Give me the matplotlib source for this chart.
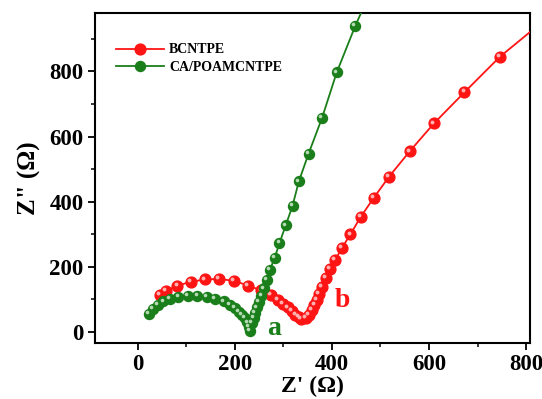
"""
Nyquist plot of the two electrodes (BCNTPE and CA/POAMCNTPE).

"""
import matplotlib.pyplot as plt
from matplotlib.transforms import offset_copy
from matplotlib.ticker import MultipleLocator

# BCNTPE (curve b)
red_x = [46, 59, 82, 109, 139, 167, 198, 227, 255, 275, 289, 300, 309, 317,
         325, 332, 337, 346, 353, 359, 364, 369, 373, 380, 388, 396, 407,
         421, 438, 459, 486, 518, 560, 610, 673, 746, 830]
red_y = [112, 125, 142, 153, 161, 162, 157, 142, 127, 112, 99, 86, 75, 64,
         53, 46, 40, 43, 53, 66, 82, 99, 117, 139, 165, 192, 221,
         258, 299, 352, 411, 477, 554, 640, 736, 845, 948]

# CA/POAMCNTPE (curve a)
green_x = [24, 31, 42, 53, 67, 84, 103, 123, 142, 160, 177, 190, 201, 209,
           215, 221, 226, 229, 232, 235, 239, 242, 246, 250, 255, 260, 266,
           272, 282, 292, 305, 319, 332, 352, 380, 410, 448, 475]
green_y = [55, 69, 83, 93, 101, 107, 110, 110, 107, 101, 93, 83, 73, 62,
           53, 43, 29, 16, 3, 27, 43, 59, 75, 91, 110, 133, 160,
           189, 226, 272, 327, 387, 462, 547, 658, 797, 939, 1030]

RED = "#ff1414"
GREEN = "#1a7f1a"

plt.rcParams["font.family"] = ["Liberation Serif", "DejaVu Serif"]
plt.rcParams["font.weight"] = "bold"

fig = plt.figure(figsize=(5.42, 3.99), dpi=100)
ax = fig.add_axes([0.175, 0.140, 0.802, 0.827])

ax.plot(red_x, red_y, "-o", color=RED, lw=1.3, ms=7.8, mec=RED,
        label="BCNTPE", zorder=3)
ax.plot(green_x, green_y, "-o", color=GREEN, lw=1.3, ms=7.2, mec=GREEN,
        label="CA/POAMCNTPE", zorder=4)

# little highlights to give the markers a shiny look
shine = offset_copy(ax.transData, fig=fig, x=-1.3, y=1.3, units="points")
ax.plot(red_x, red_y, "o", color="#ffb0b0", ms=2.8, mec="none",
        transform=shine, zorder=3.5)
ax.plot(green_x, green_y, "o", color="#b5dab5", ms=2.6, mec="none",
        transform=shine, zorder=4.5)

ax.set_xlim(-88, 807)
ax.set_ylim(-35, 979)
ax.xaxis.set_major_locator(MultipleLocator(200))
ax.xaxis.set_minor_locator(MultipleLocator(100))
ax.yaxis.set_major_locator(MultipleLocator(200))
ax.yaxis.set_minor_locator(MultipleLocator(100))
ax.tick_params(which="major", length=5, width=1.3, labelsize=16.5, pad=3)
ax.tick_params(which="minor", length=3, width=1.1)
for spine in ax.spines.values():
    spine.set_linewidth(1.5)

ax.set_xlabel("Z' (\u03a9)", fontsize=17, fontweight="bold", labelpad=0.5)
ax.set_ylabel('Z" (\u03a9)', fontsize=18, fontweight="bold", labelpad=6)

ax.text(282, 11, "a", color=GREEN, fontsize=20, fontweight="bold",
        ha="center", va="center")
ax.text(421, 96, "b", color=RED, fontsize=20, fontweight="bold",
        ha="center", va="center")

ax.legend(loc="upper left", bbox_to_anchor=(0.035, 0.925), frameon=False,
          fontsize=10, handlelength=3.5, handletextpad=0.35, labelspacing=0.35,
          borderaxespad=0)

fig.savefig("out.png")
